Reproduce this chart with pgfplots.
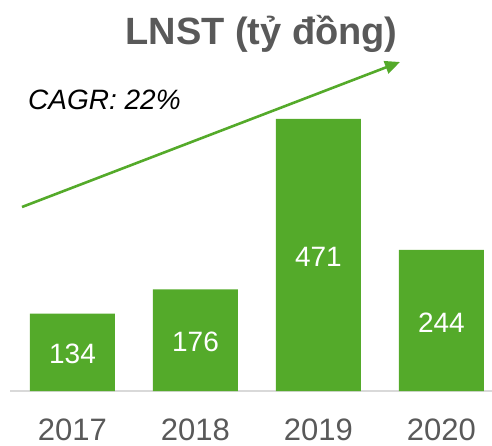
\documentclass[border=0pt]{standalone}
\usepackage{pgfplots}
\pgfplotsset{compat=1.18}
\usepackage{fontspec}
\setmainfont{Liberation Sans}
\usetikzlibrary{arrows.meta}
\definecolor{barg}{RGB}{84,170,42}
\definecolor{txtg}{RGB}{89,89,89}
\definecolor{lineg}{RGB}{217,217,217}
\begin{document}
\begin{tikzpicture}
% page: 492 x 445, axis box from x=10..492, baseline at y=391 (image px)
\useasboundingbox (-10pt,-54pt) rectangle (482pt,391pt);
\begin{axis}[
    at={(0,0)}, anchor=south west,
    scale only axis, width=482pt, height=391pt,
    xmin=-0.508, xmax=3.411, ymin=0, ymax=676.5,
    enlargelimits=false, clip=false,
    ybar, bar width=85pt,
    axis x line*=bottom, axis y line=none,
    x axis line style={draw=lineg, line width=1.5pt},
    xtick={0,1,2,3}, xticklabels={2017,2018,2019,2020},
    major tick length=0pt,
    xticklabel style={font=\fontsize{31}{33}\selectfont, text=txtg, anchor=north, yshift=-24pt},
    visualization depends on={y \as \rawy},
    nodes near coords={\pgfmathprintnumber[assume math mode=true]{\pgfplotspointmeta}},
    every node near coord/.append style={font=\fontsize{28}{30}\selectfont, text=white,
        anchor=center, shift={(axis direction cs:0,-\rawy/2)}, yshift=-2pt},
]
\addplot[fill=barg, draw=none] coordinates {(0,134) (1,176) (2,471) (3,244)};
\end{axis}
\node[anchor=base, text=txtg, font=\bfseries\fontsize{38}{40}\selectfont] at (251.5pt,346pt) {LNST (tỷ đồng)};
\node[anchor=base west, inner sep=0pt, font=\itshape\fontsize{28}{30}\selectfont] at (18pt,281pt) {CAGR: 22\%};
\draw[barg, line width=2.6pt, -{Triangle[length=15pt,width=13pt]}] (12pt,184pt) -- (390pt,329pt);
\end{tikzpicture}
\end{document}
